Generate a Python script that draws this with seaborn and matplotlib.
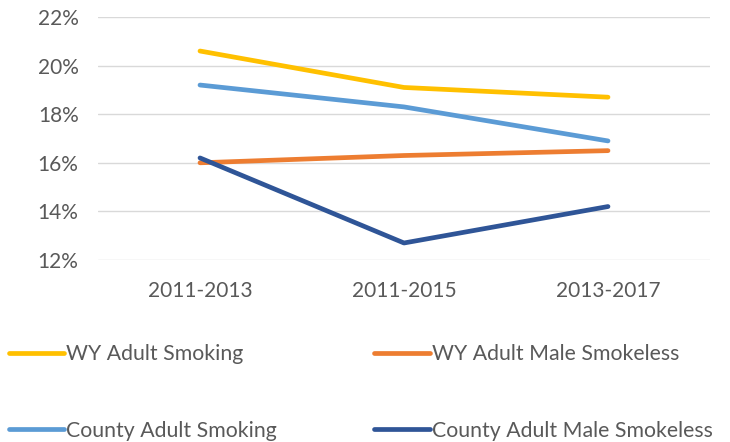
import matplotlib
matplotlib.use("Agg")
import matplotlib.pyplot as plt
from matplotlib.ticker import FuncFormatter
import seaborn as sns
import pandas as pd

periods = ["2011-2013", "2011-2015", "2013-2017"]
wy_smoking = [20.6, 19.1, 18.7]
wy_male_smokeless = [16.0, 16.3, 16.5]
county_smoking = [19.2, 18.3, 16.9]
county_male_smokeless = [16.2, 12.7, 14.2]

series = {
    "WY Adult Smoking": wy_smoking,
    "WY Adult Male Smokeless": wy_male_smokeless,
    "County Adult Smoking": county_smoking,
    "County Adult Male Smokeless": county_male_smokeless,
}
colors = {
    "WY Adult Smoking": "#FFC000",
    "WY Adult Male Smokeless": "#ED7D31",
    "County Adult Smoking": "#5B9BD5",
    "County Adult Male Smokeless": "#2F5597",
}

rows = []
for name, vals in series.items():
    for i, v in enumerate(vals):
        rows.append({"period": i, "series": name, "value": v})
df = pd.DataFrame(rows)

sns.set_style("white")
plt.rcParams["font.family"] = ["Lato", "DejaVu Sans"]
text_color = "#595959"

fig = plt.figure(figsize=(7.3, 4.42), dpi=100)
ax = fig.add_axes([98 / 730, 1 - 260 / 442, 612 / 730, 243 / 442])

sns.lineplot(data=df, x="period", y="value", hue="series", palette=colors,
             hue_order=list(series.keys()), linewidth=3.4, ax=ax,
             legend=False, solid_capstyle="round")

ax.set_xlim(-0.5, 2.5)
ax.set_ylim(12, 22)
ax.set_yticks([12, 14, 16, 18, 20, 22])
ax.yaxis.set_major_formatter(FuncFormatter(lambda v, p: f"{v:.0f}%"))
ax.set_xticks(range(len(periods)))
ax.set_xticklabels(periods)
ax.grid(axis="y", color="#D9D9D9", linewidth=1)
ax.set_axisbelow(True)
for s in ax.spines.values():
    s.set_visible(False)
ax.tick_params(axis="both", length=0, labelsize=15, colors=text_color)
ax.tick_params(axis="y", pad=14)
ax.tick_params(axis="x", pad=15)
ax.set_xlabel("")
ax.set_ylabel("")

# legend: two columns, row-major order like the original
order = ["WY Adult Smoking", "County Adult Smoking",
         "WY Adult Male Smokeless", "County Adult Male Smokeless"]
handles = [plt.Line2D([], [], color=colors[n], linewidth=3.4,
                      solid_capstyle="round") for n in order]
leg = fig.legend(handles, order, loc="upper left", bbox_to_anchor=(0.0, 1 - 336 / 442),
                 ncol=2, frameon=False, fontsize=15.3, handlelength=2.6,
                 handletextpad=0.1, columnspacing=4.6, labelspacing=2.65,
                 borderaxespad=0)
for t in leg.get_texts():
    t.set_color(text_color)

plt.savefig("out.png", dpi=100)
